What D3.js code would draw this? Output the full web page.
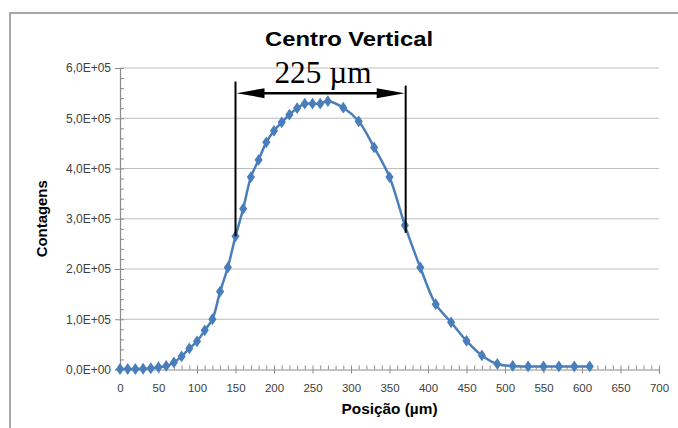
<!DOCTYPE html>
<html>
<head>
<meta charset="utf-8">
<script src="https://cdn.jsdelivr.net/npm/d3@7"></script>
<style>
    body { margin: 0; background: #fff; }
    svg { display: block; }
</style>
</head>
<body>
<svg id="chart" width="678" height="428"></svg>
<script>
// posição (µm) e contagens
const positions = [0, 10, 20, 30, 40, 50, 60, 70, 80, 90, 100, 110, 120, 130, 140, 150, 160, 170, 180, 190,
    200, 210, 220, 230, 240, 250, 260, 270, 290, 310, 330, 350, 370, 390, 410, 430, 450, 470, 490,
    510, 530, 550, 570, 590, 610];
const counts = [1000, 1000, 1000, 1500, 2500, 4600, 7000, 14000, 26000, 42000, 56000, 78000, 100000, 155000, 203000,
    265000, 320000, 383000, 417000, 452000, 475000, 492000, 507000, 520000, 529000, 529000, 529000, 534000,
    521000, 494000, 442000, 383000, 287000, 203000, 130000, 94000, 57000, 28000, 11000,
    7000, 6000, 6000, 6000, 6000, 6000];

const xTicks = [0, 50, 100, 150, 200, 250, 300, 350, 400, 450, 500, 550, 600, 650, 700];
const yTicks = [0, 100000, 200000, 300000, 400000, 500000, 600000];

// marcação da largura (225 µm)
const widthMarks = [150, 371];
const widthTop = [573000, 565000];
const widthBottom = [265000, 272000];
const arrowLevel = 550000;
const widthLabel = "225 µm";

const data = positions.map((p, i) => ({ x: p, y: counts[i] }));

let svg = d3.select("#chart");

// moldura
svg.append("rect")
    .attr("x", 10)
    .attr("y", 13)
    .attr("width", 700)
    .attr("height", 440)
    .attr("fill", "none")
    .attr("stroke", "#8c8c8c")
    .attr("stroke-width", 1.5);

let x = d3.scaleLinear().domain([0, 700]).range([120, 659]);
let y = d3.scaleLinear().domain([0, 600000]).range([369.5, 68]);

// grade horizontal
svg.append("g")
    .selectAll("line")
    .data(yTicks.slice(1))
    .enter().append("line")
    .attr("x1", x(0))
    .attr("x2", x(700))
    .attr("y1", d => y(d))
    .attr("y2", d => y(d))
    .attr("stroke", "#bdbdbd")
    .attr("stroke-width", 1.2);

const fmtY = d => {
    if (d === 0) return "0,0E+00";
    return (d / 100000).toFixed(1).replace(".", ",") + "E+05";
};

// eixo y
let yAxis = svg.append("g")
    .attr("transform", `translate(${x(0)},0)`)
    .call(d3.axisLeft(y).tickValues(yTicks).tickFormat(fmtY).tickSize(5).tickPadding(4));
let yMinor = svg.append("g")
    .attr("transform", `translate(${x(0)},0)`)
    .call(d3.axisRight(y).tickValues(d3.range(0, 600001, 20000)).tickFormat("").tickSize(4));

// eixo x
let xAxis = svg.append("g")
    .attr("transform", `translate(0,${y(0)})`)
    .call(d3.axisBottom(x).tickValues(xTicks).tickSize(4).tickPadding(10));
let xMinor = svg.append("g")
    .attr("transform", `translate(0,${y(0)})`)
    .call(d3.axisTop(x).tickValues(d3.range(0, 701, 10)).tickFormat("").tickSize(4));

[yAxis, yMinor, xAxis, xMinor].forEach(g => {
    g.select(".domain").attr("stroke", "#8c8c8c").attr("stroke-width", 1.2);
    g.selectAll(".tick line").attr("stroke", "#8c8c8c");
});
yMinor.select(".domain").remove();
xMinor.select(".domain").remove();

yAxis.selectAll("text")
    .attr("font-family", "Liberation Sans, Arial, sans-serif")
    .attr("font-size", 12)
    .attr("fill", "#404040");
xAxis.selectAll("text")
    .attr("font-family", "Liberation Sans, Arial, sans-serif")
    .attr("font-size", 11.5)
    .attr("fill", "#404040");

// curva
let line = d3.line()
    .x(d => x(d.x))
    .y(d => y(d.y))
    .curve(d3.curveCatmullRom.alpha(0.5));

svg.append("path")
    .datum(data)
    .attr("d", line)
    .attr("fill", "none")
    .attr("stroke", "#4a7ebb")
    .attr("stroke-width", 2.5);

svg.append("g")
    .selectAll("path")
    .data(data)
    .enter().append("path")
    .attr("d", d3.symbol().type(d3.symbolDiamond).size(40))
    .attr("transform", d => `translate(${x(d.x)},${y(d.y)}) scale(1.2,1)`)
    .attr("fill", "#4a7ebb");

// títulos
svg.append("text")
    .attr("x", 349)
    .attr("y", 46)
    .attr("text-anchor", "middle")
    .attr("font-family", "Liberation Sans, Arial, sans-serif")
    .attr("font-weight", "bold")
    .attr("font-size", 20)
    .attr("textLength", 168)
    .attr("lengthAdjust", "spacingAndGlyphs")
    .attr("fill", "#000")
    .text("Centro Vertical");

svg.append("text")
    .attr("transform", `translate(47,${(y(0) + y(600000)) / 2}) rotate(-90)`)
    .attr("text-anchor", "middle")
    .attr("font-family", "Liberation Sans, Arial, sans-serif")
    .attr("font-weight", "bold")
    .attr("font-size", 14)
    .attr("textLength", 77)
    .attr("lengthAdjust", "spacingAndGlyphs")
    .attr("fill", "#000")
    .text("Contagens");

svg.append("text")
    .attr("x", (x(0) + x(700)) / 2)
    .attr("y", 414)
    .attr("text-anchor", "middle")
    .attr("font-family", "Liberation Sans, Arial, sans-serif")
    .attr("font-weight", "bold")
    .attr("font-size", 14)
    .attr("textLength", 96)
    .attr("lengthAdjust", "spacingAndGlyphs")
    .attr("fill", "#000")
    .text("Posição (µm)");

// anotação da largura
let ann = svg.append("g");
ann.selectAll("line.mark")
    .data(widthMarks)
    .enter().append("line")
    .attr("class", "mark")
    .attr("x1", d => x(d))
    .attr("x2", d => x(d))
    .attr("y1", (d, i) => y(widthTop[i]))
    .attr("y2", (d, i) => y(widthBottom[i]))
    .attr("stroke", "#000")
    .attr("stroke-width", 2);

let ax1 = x(widthMarks[0]) + 1;
let ax2 = x(widthMarks[1]) - 1;
let ay = y(arrowLevel);
ann.append("line")
    .attr("x1", ax1 + 20)
    .attr("x2", ax2 - 20)
    .attr("y1", ay)
    .attr("y2", ay)
    .attr("stroke", "#000")
    .attr("stroke-width", 2.5);
ann.append("path")
    .attr("d", `M${ax1},${ay}L${ax1 + 28},${ay - 5}L${ax1 + 28},${ay + 5}Z`)
    .attr("fill", "#000");
ann.append("path")
    .attr("d", `M${ax2},${ay}L${ax2 - 28},${ay - 5}L${ax2 - 28},${ay + 5}Z`)
    .attr("fill", "#000");

ann.append("text")
    .attr("x", 323)
    .attr("y", 82.5)
    .attr("text-anchor", "middle")
    .attr("font-family", "Liberation Serif, Times New Roman, serif")
    .attr("font-size", 32)
    .attr("textLength", 97)
    .attr("lengthAdjust", "spacingAndGlyphs")
    .attr("fill", "#000")
    .text(widthLabel);
</script>
</body>
</html>
